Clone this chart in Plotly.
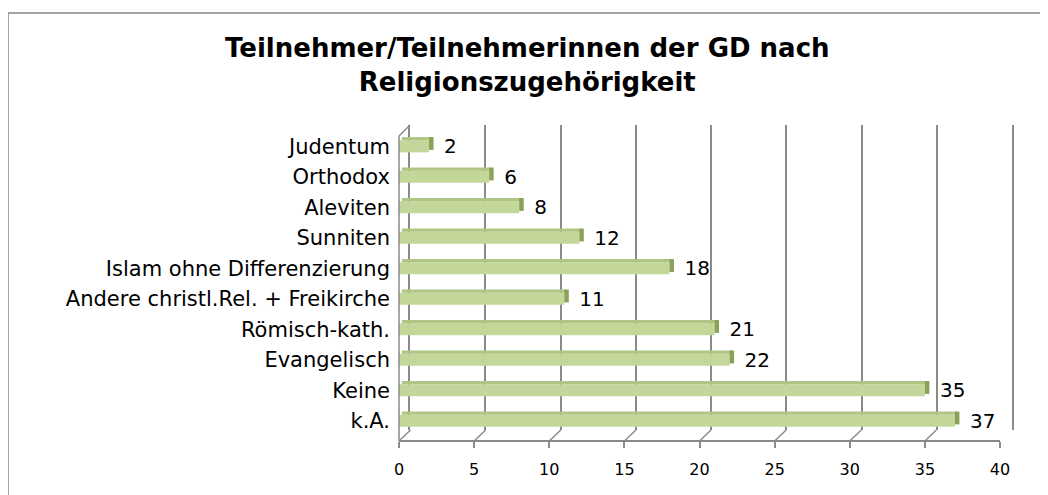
import plotly.graph_objects as go

categories = ["k.A.", "Keine", "Evangelisch", "Römisch-kath.",
              "Andere christl.Rel. + Freikirche", "Islam ohne Differenzierung",
              "Sunniten", "Aleviten", "Orthodox", "Judentum"]
values = [37, 35, 22, 21, 11, 18, 12, 8, 6, 2]
tick_values = [0, 5, 10, 15, 20, 25, 30, 35, 40]
title_text = "Teilnehmer/Teilnehmerinnen der GD nach<br>Religionszugehörigkeit"

W, H = 1048, 495
OFF = 8  # page body margin compensation
def px(x): return (x - OFF) / W
def py(y): return 1 - (y - OFF) / H

FRONT_L, FRONT_R = 399, 1000
BACK_L, BACK_R = 410, 1012
FLOOR_FRONT, FLOOR_BACK = 441, 430
PPU = (FRONT_R - FRONT_L) / 40.0
GRAY = "#8A8A8A"
FONT = "DejaVu Sans"

fig = go.Figure()

# back wall subplot (gridlines) on xaxis/yaxis
fig.add_trace(go.Scatter(x=[0], y=[0], xaxis="x", yaxis="y", mode="markers",
                         marker=dict(opacity=0), hoverinfo="skip", showlegend=False))

# bars on x2/y2
fig.add_trace(go.Bar(y=categories, x=values, orientation="h", xaxis="x2", yaxis="y2",
                     width=0.4, offset=-0.2, marker=dict(color="#C4D79B", line=dict(width=0)),
                     showlegend=False, hoverinfo="skip"))
fig.add_trace(go.Bar(y=categories, x=values, base=[0.2] * len(values), orientation="h",
                     xaxis="x2", yaxis="y2", width=0.1, offset=0.2,
                     marker=dict(color="#AFC583", line=dict(width=0)),
                     showlegend=False, hoverinfo="skip"))
fig.add_trace(go.Bar(y=categories, x=[0.3] * len(values), base=values, orientation="h",
                     xaxis="x2", yaxis="y2", width=0.42, offset=-0.12,
                     marker=dict(color="#8CA158", line=dict(width=0)),
                     showlegend=False, hoverinfo="skip"))
fig.add_trace(go.Bar(y=categories, x=[0.8] * len(values), base=values, orientation="h",
                     xaxis="x2", yaxis="y2", width=0.4, offset=-0.2,
                     marker=dict(color="rgba(0,0,0,0)", line=dict(width=0)),
                     text=[str(v) for v in values], textposition="outside",
                     constraintext="none", cliponaxis=False,
                     textfont=dict(family=FONT, size=20, color="#000000"),
                     showlegend=False, hoverinfo="skip"))

shapes = []
# outer border
shapes.append(dict(type="rect", xref="paper", yref="paper", x0=px(8), x1=1.02,
                   y0=-0.03, y1=py(13), line=dict(color="#868686", width=1.5), layer="below"))
# left front wall line + slant
shapes.append(dict(type="line", xref="paper", yref="paper", x0=px(FRONT_L), x1=px(FRONT_L),
                   y0=py(FLOOR_FRONT), y1=py(136), line=dict(color=GRAY, width=1.5)))
shapes.append(dict(type="line", xref="paper", yref="paper", x0=px(FRONT_L), x1=px(BACK_L),
                   y0=py(136), y1=py(125), line=dict(color=GRAY, width=1.5)))
# floor slants
for t in tick_values:
    shapes.append(dict(type="line", xref="x2", yref="paper", x0=t, x1=t + 11.5 / PPU,
                       y0=py(FLOOR_FRONT), y1=py(FLOOR_BACK), line=dict(color=GRAY, width=1.5)))

fig.update_layout(
    width=W, height=H, margin=dict(l=0, r=0, t=0, b=0, pad=0), autosize=False,
    paper_bgcolor="white", plot_bgcolor="rgba(0,0,0,0)",
    barmode="overlay", showlegend=False,
    annotations=[dict(text="<b>" + title_text + "</b>", x=px(527), y=py(65),
                      xref="paper", yref="paper", xanchor="center", yanchor="middle",
                      showarrow=False, align="center",
                      font=dict(family=FONT, size=26, color="#000000"))],
    xaxis=dict(domain=[px(BACK_L), px(BACK_R)], range=[0, 40], anchor="y",
               tickvals=tick_values, showticklabels=False, ticks="", automargin=False,
               showgrid=True, gridcolor=GRAY, gridwidth=1.5, zeroline=False, showline=False),
    yaxis=dict(domain=[py(FLOOR_BACK), py(125)], range=[0, 1], anchor="x", automargin=False,
               showgrid=False, zeroline=False, showticklabels=False, ticks="",
               showline=True, mirror=True, linecolor=GRAY, linewidth=1.5),
    xaxis2=dict(domain=[px(FRONT_L), px(FRONT_R)], range=[0, 40], anchor="free",
                position=py(FLOOR_FRONT), tickvals=tick_values, automargin=False,
                ticks="outside", ticklen=6, tickcolor=GRAY, tickwidth=1.5,
                showline=True, linecolor=GRAY, linewidth=1.5,
                showgrid=False, zeroline=False, ticklabelstandoff=8,
                tickfont=dict(family=FONT, size=16, color="#000000")),
    yaxis2=dict(domain=[py(436), py(131)], range=[-0.5, 9.5], anchor="x2",
                type="category", categoryorder="array", categoryarray=categories,
                showgrid=False, zeroline=False, showline=False, ticks="", automargin=False,
                ticklabelstandoff=8,
                tickfont=dict(family=FONT, size=21, color="#000000")),
    shapes=shapes,
)

fig.write_html("out.html")
